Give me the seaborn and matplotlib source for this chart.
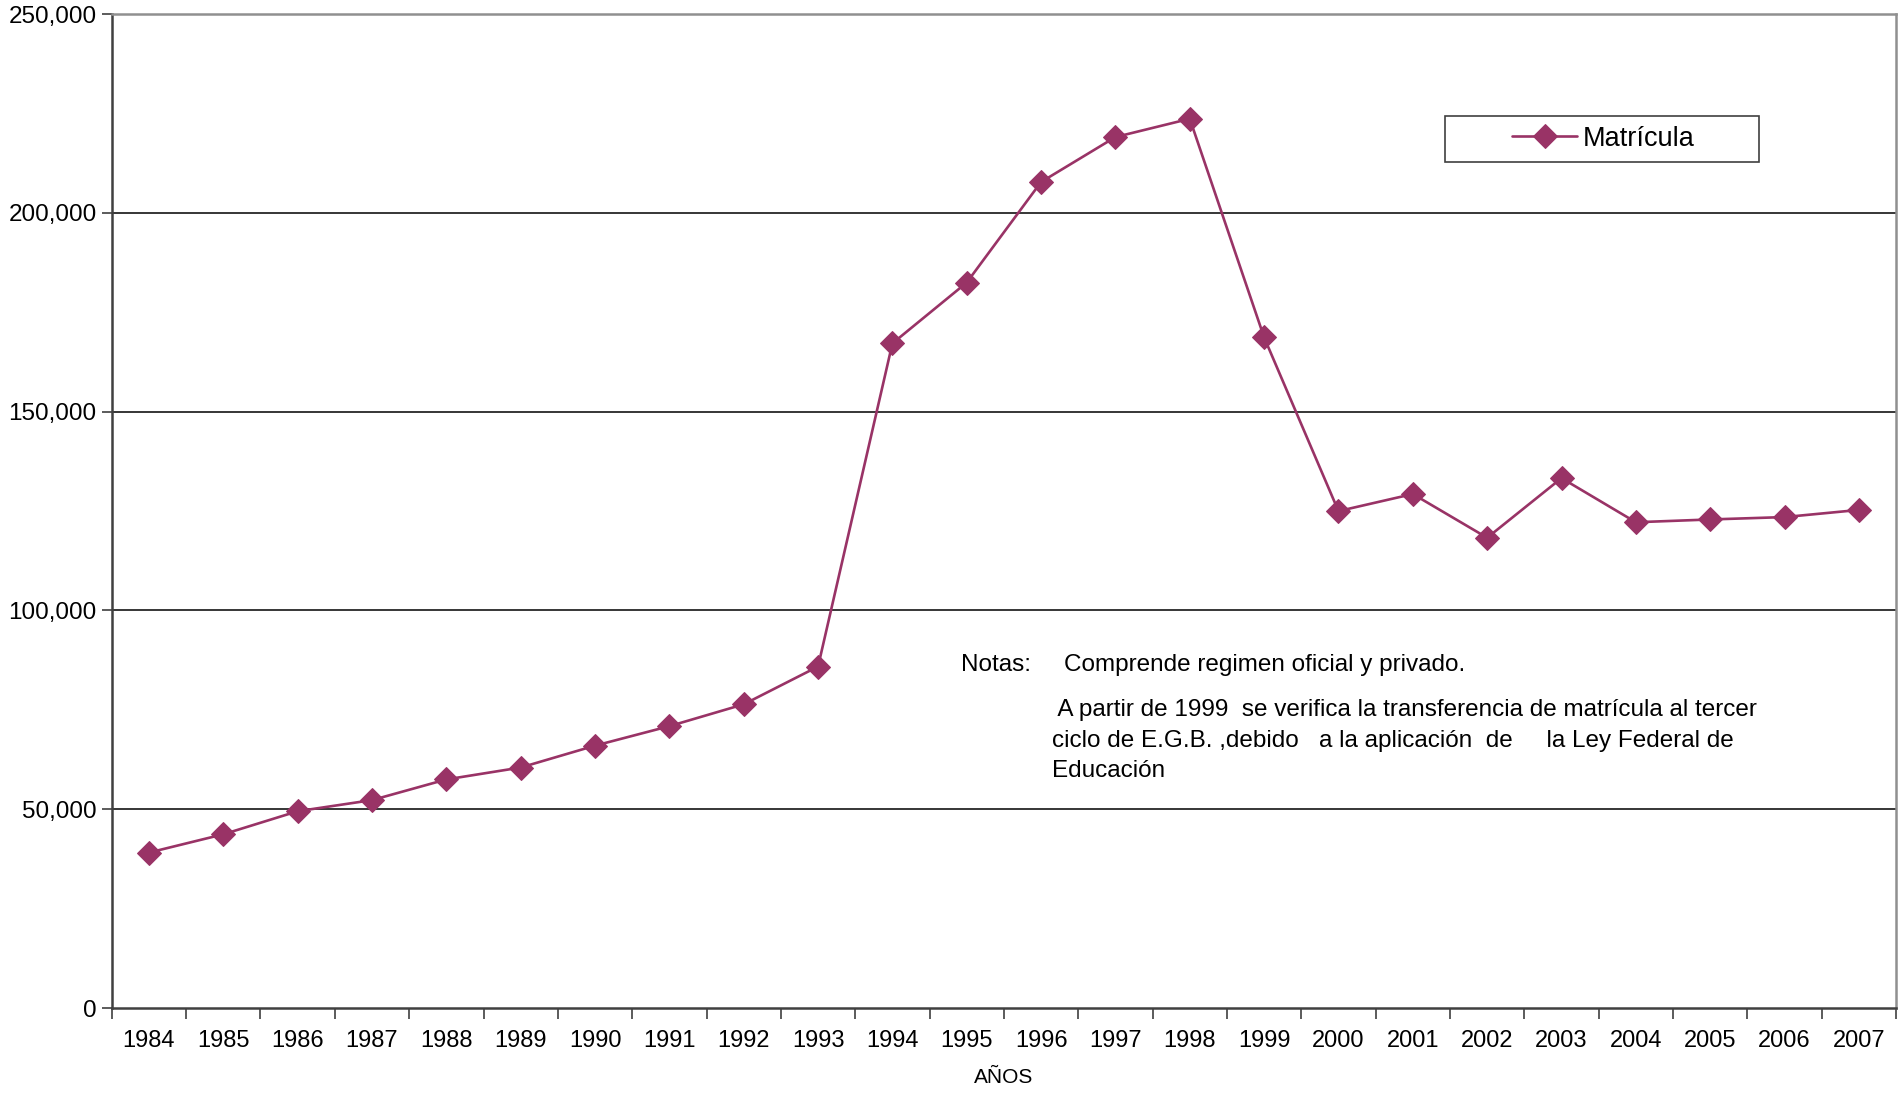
import matplotlib
matplotlib.use("Agg")
import matplotlib.pyplot as plt
import seaborn as sns
import numpy as np
import pandas as pd
from matplotlib.ticker import FuncFormatter, FixedLocator
from matplotlib.patches import Rectangle

years = [1984, 1985, 1986, 1987, 1988, 1989, 1990, 1991, 1992, 1993, 1994, 1995,
         1996, 1997, 1998, 1999, 2000, 2001, 2002, 2003, 2004, 2005, 2006, 2007]
matricula = [39100, 43700, 49500, 52300, 57500, 60500, 66000, 70900, 76400, 85900,
             167200, 182500, 207800, 219100, 223700, 168700, 125000, 129300, 118300,
             133300, 122200, 122900, 123500, 125300]
y_ticks = [0, 50000, 100000, 150000, 200000, 250000]
series_name = "Matrícula"
x_label = "AÑOS"
note_head = "Notas:"
note_1 = "Comprende regimen oficial y privado."
note_2 = [" A partir de 1999  se verifica la transferencia de matrícula al tercer",
          "ciclo de E.G.B. ,debido   a la aplicación  de     la Ley Federal de",
          "Educación"]

sns.set_theme(style="white")
plt.rcParams['font.family'] = ['Liberation Sans', 'DejaVu Sans']
plt.rcParams['text.color'] = 'black'
plt.rcParams['axes.labelcolor'] = 'black'
plt.rcParams['xtick.color'] = 'black'
plt.rcParams['ytick.color'] = 'black'

df = pd.DataFrame({"year": years, "value": matricula})

fig = plt.figure(figsize=(19.01, 10.94), dpi=100)
ax = fig.add_axes([0.0588, 0.0786, 0.9386, 0.9084])

color = "#993366"
sns.lineplot(data=df, x="year", y="value", ax=ax, color=color, linewidth=1.9,
             marker="D", markersize=12, markeredgecolor=color, markerfacecolor=color,
             label=series_name)

ax.set_xlim(years[0] - 0.5, years[-1] + 0.5)
ax.set_ylim(y_ticks[0], y_ticks[-1])
ax.set_yticks(y_ticks)
ax.yaxis.set_major_formatter(FuncFormatter(lambda v, p: f"{int(v):,}"))
ax.set_xticks(years)
ax.set_xticklabels([str(y) for y in years])
ax.xaxis.set_minor_locator(FixedLocator([y - 0.5 for y in years] + [years[-1] + 0.5]))

ax.tick_params(axis="x", which="major", length=0, pad=16, labelsize=17, labelcolor="black")
ax.tick_params(axis="x", which="minor", length=8, width=1.2, color="#404040", direction="out", bottom=True)
ax.tick_params(axis="y", which="major", length=7, width=1.2, color="#404040", direction="out",
               left=True, labelsize=17.5, pad=4, labelcolor="black")

for yv in y_ticks[1:-1]:
    ax.axhline(yv, color="black", linewidth=1.1, zorder=0)

for s in ["left", "bottom"]:
    ax.spines[s].set_color("#404040")
    ax.spines[s].set_linewidth(1.8)
for s in ["top", "right"]:
    ax.spines[s].set_color("#909090")
    ax.spines[s].set_linewidth(1.8)

ax.set_xlabel(x_label, fontsize=15, color="black", va="center")
ax.xaxis.set_label_coords(0.5, -0.0704)
ax.set_ylabel("")

# legend with a manual frame like the reference
ax.add_patch(Rectangle((0.7472, 0.8514), 0.1760, 0.0463, transform=ax.transAxes,
                       facecolor="white", edgecolor="#404040", linewidth=1.2, zorder=4))
leg = ax.legend(loc="center", bbox_to_anchor=(0.836, 0.8745), frameon=False,
                fontsize=19.5, handlelength=2.4, borderpad=0, handletextpad=0.2,
                borderaxespad=0, labelcolor="black")
leg.set_zorder(5)

# note text
fs = 17.5
fig.text(961 / 1901, 1 - 665 / 1094, note_head, fontsize=fs, va="center", ha="left", color="black")
fig.text(1064 / 1901, 1 - 665 / 1094, note_1, fontsize=fs, va="center", ha="left", color="black")
for i, line in enumerate(note_2):
    fig.text(1052 / 1901, 1 - (710 + 30.5 * i) / 1094, line, fontsize=fs, va="center", ha="left",
             color="black")

fig.savefig("out.png", dpi=100)
